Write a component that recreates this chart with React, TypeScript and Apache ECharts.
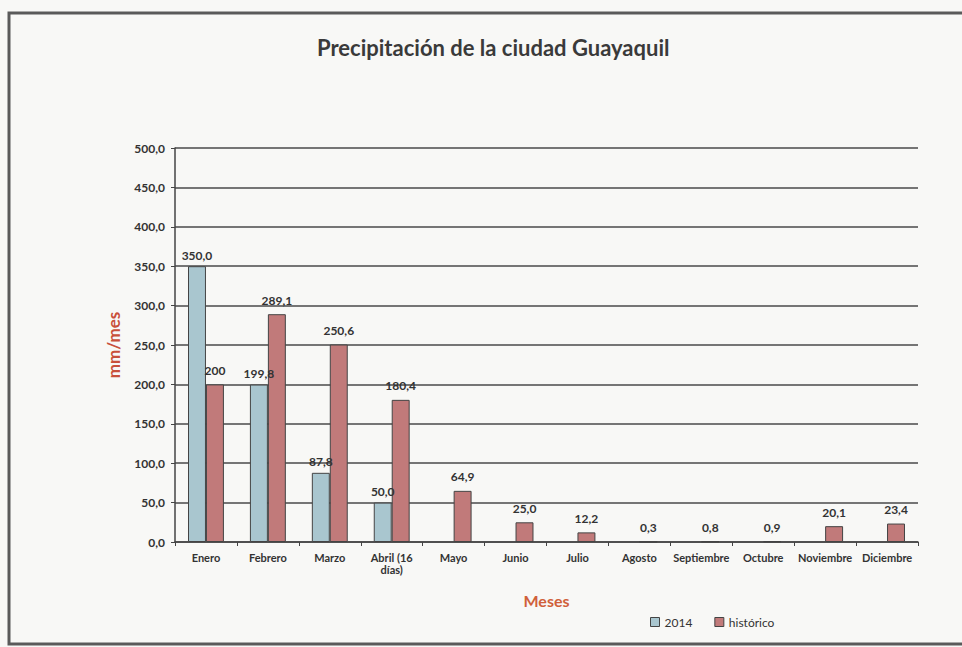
import React, { useEffect, useRef } from "react";
import * as echarts from "echarts";

const categories = ["Enero", "Febrero", "Marzo", "Abril (16\ndías)", "Mayo", "Junio", "Julio", "Agosto", "Septiembre", "Octubre", "Noviembre", "Diciembre"];
const values2014: (number | null)[] = [350.0, 199.8, 87.8, 50.0, null, null, null, null, null, null, null, null];
const valuesHistorico: number[] = [200, 289.1, 250.6, 180.4, 64.9, 25.0, 12.2, 0.3, 0.8, 0.9, 20.1, 23.4];
const labelsHistorico: string[] = ["200", "289,1", "250,6", "180,4", "64,9", "25,0", "12,2", "0,3", "0,8", "0,9", "20,1", "23,4"];
const yTicks = { min: 0, max: 500, interval: 50 };

const fmt = (v: number) => v.toFixed(1).replace(".", ",");

export default function App() {
  const ref = useRef<HTMLDivElement>(null);
  useEffect(() => {
    if (!ref.current) return;
    const chart = echarts.init(ref.current, null, { renderer: "svg" });
    const font = "Lato, 'Open Sans', sans-serif";
    chart.setOption({
      animation: false,
      backgroundColor: "#f8f8f6",
      textStyle: { fontFamily: font },
      title: {
        text: "Precipitación de la ciudad Guayaquil",
        left: 312,
        top: 31,
        textStyle: { fontSize: 22, fontWeight: "bold", color: "#3a3a3a", fontFamily: font },
      },
      graphic: [
        {
          type: "rect",
          shape: { x: 9, y: 13, width: 970, height: 631 },
          style: { fill: "none", stroke: "#5a5a5a", lineWidth: 3 },
          silent: true,
        },
      ],
      legend: {
        left: 645,
        top: 611,
        itemWidth: 9,
        itemHeight: 9,
        itemGap: 22,
        textStyle: { fontSize: 12, color: "#333", fontFamily: font },
        data: [
          { name: "2014", icon: "rect", itemStyle: { color: "#a9c6cf", borderColor: "#444", borderWidth: 1 } },
          { name: "histórico", icon: "rect", itemStyle: { color: "#c17a7a", borderColor: "#444", borderWidth: 1 } },
        ],
      },
      grid: { left: 175, right: 44, top: 148, bottom: 105 },
      xAxis: {
        type: "category",
        data: categories,
        name: "Meses",
        nameLocation: "middle",
        nameGap: 50,
        nameTextStyle: { color: "#d0603a", fontWeight: "bold", fontSize: 16, fontFamily: font },
        axisLine: { lineStyle: { color: "#444", width: 1.5 } },
        axisTick: { show: true, alignWithLabel: false, length: 4, lineStyle: { color: "#444" } },
        axisLabel: { interval: 0, fontSize: 11, color: "#333", fontWeight: "bold", lineHeight: 12, margin: 9 },
      },
      yAxis: {
        type: "value",
        min: yTicks.min,
        max: yTicks.max,
        interval: yTicks.interval,
        name: "mm/mes",
        nameLocation: "middle",
        nameGap: 53,
        nameTextStyle: { color: "#c8503a", fontWeight: "bold", fontSize: 17, fontFamily: font },
        axisLine: { show: true, lineStyle: { color: "#444", width: 1.5 } },
        axisTick: { show: true, length: 4, lineStyle: { color: "#444" } },
        axisLabel: { fontSize: 12, color: "#333", fontWeight: "bold", formatter: (v: number) => fmt(v), margin: 10 },
        splitLine: { lineStyle: { color: "#4a4a4a", width: 1.5 } },
      },
      series: [
        {
          name: "2014",
          type: "bar",
          data: values2014,
          barGap: "0%",
          barCategoryGap: "42%",
          itemStyle: { color: "#a9c6cf", borderColor: "#444", borderWidth: 1 },
          label: {
            show: true,
            position: "top",
            fontSize: 12,
            color: "#333",
            fontWeight: "bold",
            formatter: (p: any) => (p.value == null ? "" : fmt(p.value)),
          },
        },
        {
          name: "histórico",
          type: "bar",
          data: valuesHistorico,
          itemStyle: { color: "#c17a7a", borderColor: "#444", borderWidth: 1 },
          label: {
            show: true,
            position: "top",
            fontSize: 12,
            color: "#333",
            fontWeight: "bold",
            distance: 8,
            formatter: (p: any) => labelsHistorico[p.dataIndex],
          },
        },
      ],
    });
    return () => chart.dispose();
  }, []);
  return <div ref={ref} style={{ position: "fixed", left: 0, top: 0, width: 962, height: 647 }} />;
}
